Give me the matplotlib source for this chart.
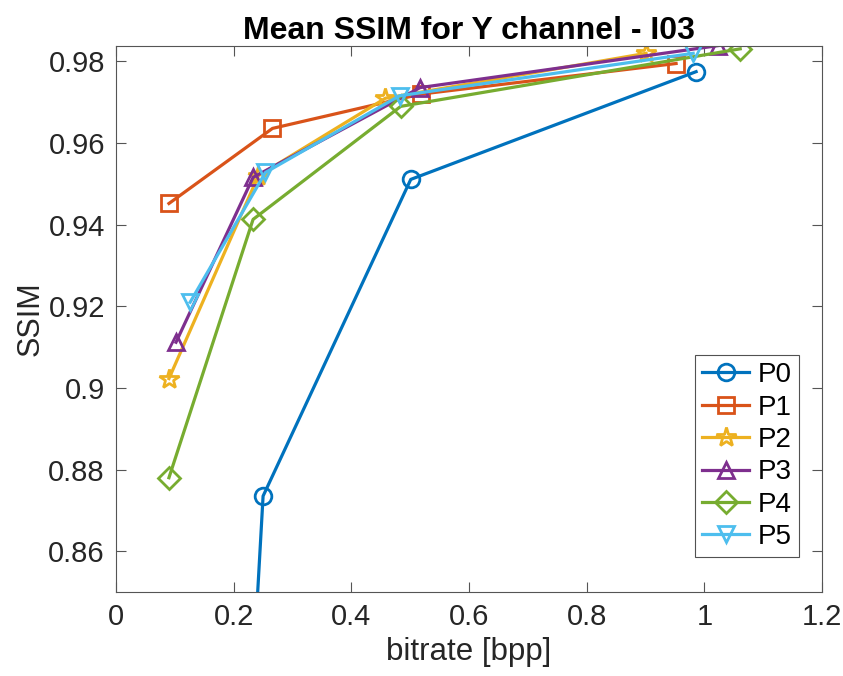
import matplotlib
matplotlib.use("Agg")
import matplotlib.pyplot as plt

plt.rcParams['font.family'] = ['Liberation Sans', 'DejaVu Sans']

labels = ["P0", "P1", "P2", "P3", "P4", "P5"]
markers = ["o", "s", "*", "^", "D", "v"]
colors = ["#0072bd", "#d95319", "#edb120", "#7e2f8e", "#77ac30", "#4dbeee"]

bitrate = [
    [0.235, 0.250, 0.501, 0.986],
    [0.090, 0.266, 0.518, 0.952],
    [0.090, 0.242, 0.458, 0.901],
    [0.102, 0.233, 0.517, 1.024],
    [0.090, 0.233, 0.484, 1.061],
    [0.126, 0.254, 0.482, 0.981],
]
ssim = [
    [0.835, 0.8735, 0.9511, 0.9775],
    [0.9452, 0.9636, 0.9720, 0.9795],
    [0.9023, 0.9520, 0.9710, 0.9820],
    [0.9112, 0.9516, 0.9736, 0.9839],
    [0.8780, 0.9413, 0.9690, 0.9831],
    [0.9210, 0.9528, 0.9716, 0.9820],
]

fig = plt.figure(figsize=(8.43, 6.76), dpi=100)
ax = fig.add_axes([0.1376, 0.1243, 0.8375, 0.8077])

for lab, m, c, x, y in zip(labels, markers, colors, bitrate, ssim):
    ms = 15 if m == "*" else (11 if m == "D" else 12)
    ax.plot(x, y, marker=m, color=c, lw=2.3, ms=ms, mfc="none", mew=2, label=lab)

ax.set_xlim(0, 1.2)
ax.set_ylim(0.85, 0.9838)
ax.set_xticks([0, 0.2, 0.4, 0.6, 0.8, 1.0, 1.2])
ax.set_xticklabels(["0", "0.2", "0.4", "0.6", "0.8", "1", "1.2"])
ax.set_yticks([0.86, 0.88, 0.9, 0.92, 0.94, 0.96, 0.98])
ax.set_yticklabels(["0.86", "0.88", "0.9", "0.92", "0.94", "0.96", "0.98"])
ax.tick_params(direction="in", top=True, right=True, labelsize=21, length=7,
               color="#555555", labelcolor="#262626", pad=8)
for s in ax.spines.values():
    s.set_color("#555555")
    s.set_linewidth(0.8)

ax.set_xlabel("bitrate [bpp]", fontsize=22.5, color="#262626", labelpad=4)
ax.set_ylabel("SSIM", fontsize=22, color="#262626", labelpad=2)
ax.set_title("Mean SSIM for Y channel - I03", fontsize=23, fontweight="bold", pad=5)

leg = ax.legend(loc="lower right", bbox_to_anchor=(0.967, 0.064), fontsize=20,
                fancybox=False, edgecolor="#262626", handlelength=1.7,
                borderpad=0.25, labelspacing=0.23, handletextpad=0.3,
                borderaxespad=0)
leg.get_frame().set_linewidth(0.8)

fig.savefig("out.png", dpi=100)
